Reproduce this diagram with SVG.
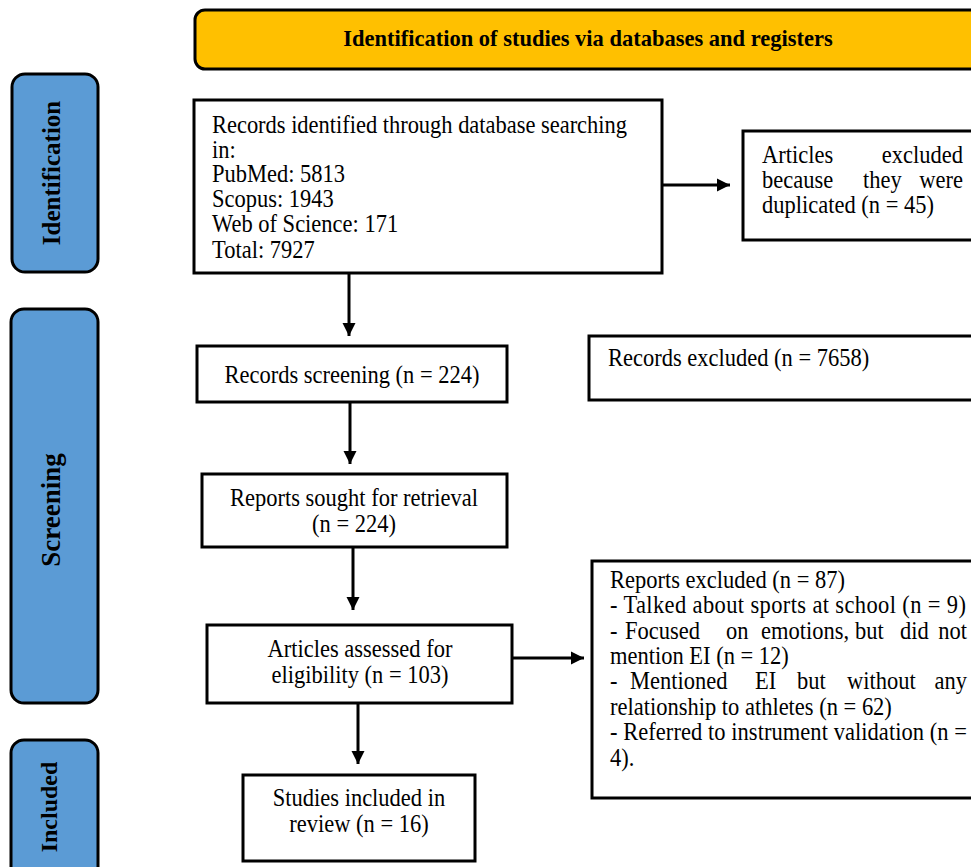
<svg xmlns="http://www.w3.org/2000/svg" width="971" height="867" viewBox="0 0 971 867">
<defs>
<style>
.box{fill:#fff;stroke:#000;stroke-width:3}
.phase{fill:#5B9BD5;stroke:#000;stroke-width:3}
.hdr{fill:#FFC000;stroke:#000;stroke-width:3}
.t{font-family:"Liberation Serif","Times New Roman",serif;font-size:22.5px;fill:#000}
.c{text-anchor:middle}
.e{text-anchor:end}
.b{font-family:"Liberation Serif","Times New Roman",serif;font-weight:bold;fill:#000}
.ln{stroke:#000;stroke-width:3;fill:none}
</style>
<marker id="ah" viewBox="0 0 10 10" refX="10" refY="5" markerWidth="4.5" markerHeight="4.5" markerUnits="strokeWidth" orient="auto">
<path d="M0,0 L10,5 L0,10 Z" fill="#000"/>
</marker>
</defs>
<rect width="971" height="867" fill="#fff"/>

<g id="header">
<rect class="hdr" x="195" y="10" width="800" height="59" rx="10"/>
<text class="b c" x="588" y="46" font-size="22.5" transform="matrix(1 0 0 1.06 0 -2.76)">Identification of studies via databases and registers</text>
</g>

<g id="phase-identification">
<rect class="phase" x="12" y="74" width="86" height="198" rx="13"/>
<text class="b c" font-size="25" transform="translate(60,173) rotate(-90)">Identification</text>
</g>
<g id="phase-screening">
<rect class="phase" x="11" y="309" width="87" height="394" rx="13"/>
<text class="b c" font-size="27" transform="translate(60,510) rotate(-90)">Screening</text>
</g>
<g id="phase-included">
<rect class="phase" x="11" y="740" width="87" height="150" rx="13"/>
<text class="b c" font-size="24" transform="translate(57,807) rotate(-90)">Included</text>
</g>

<g id="records-identified">
<rect class="box" x="194" y="100" width="468" height="173"/>
<text class="t" x="212" y="133" textLength="415" transform="matrix(1 0 0 1.1 0 -13.3)">Records identified through database searching</text>
<text class="t" x="212" y="158" transform="matrix(1 0 0 1.1 0 -15.8)">in:</text>
<text class="t" x="212" y="182" transform="matrix(1 0 0 1.1 0 -18.2)">PubMed: 5813</text>
<text class="t" x="212" y="207" transform="matrix(1 0 0 1.1 0 -20.7)">Scopus: 1943</text>
<text class="t" x="212" y="232" transform="matrix(1 0 0 1.1 0 -23.2)">Web of Science: 171</text>
<text class="t" x="212" y="258" transform="matrix(1 0 0 1.1 0 -25.8)">Total: 7927</text>
</g>

<g id="duplicates-excluded">
<rect class="box" x="743" y="131" width="240" height="109"/>
<text class="t" y="163" transform="matrix(1 0 0 1.1 0 -16.3)"><tspan x="762">Articles</tspan><tspan x="963" class="e">excluded</tspan></text>
<text class="t" y="188" transform="matrix(1 0 0 1.1 0 -18.8)"><tspan x="762">because</tspan><tspan x="863">they</tspan><tspan x="963" class="e">were</tspan></text>
<text class="t" x="762" y="213" transform="matrix(1 0 0 1.1 0 -21.3)">duplicated (n = 45)</text>
</g>

<g id="records-screening">
<rect class="box" x="197" y="346" width="310" height="56"/>
<text class="t c" x="352" y="383" transform="matrix(1 0 0 1.1 0 -38.3)">Records screening (n = 224)</text>
</g>

<g id="records-excluded">
<rect class="box" x="589" y="336" width="400" height="64"/>
<text class="t" x="608" y="366" transform="matrix(1 0 0 1.1 0 -36.6)">Records excluded (n = 7658)</text>
</g>

<g id="reports-sought">
<rect class="box" x="202" y="474" width="305" height="73"/>
<text class="t c" x="354" y="506" transform="matrix(1 0 0 1.1 0 -50.6)">Reports sought for retrieval</text>
<text class="t c" x="354" y="532" transform="matrix(1 0 0 1.1 0 -53.2)">(n = 224)</text>
</g>

<g id="articles-assessed">
<rect class="box" x="207" y="625" width="305" height="78"/>
<text class="t c" x="360" y="657" transform="matrix(1 0 0 1.1 0 -65.7)">Articles assessed for</text>
<text class="t c" x="360" y="683" transform="matrix(1 0 0 1.1 0 -68.3)">eligibility (n = 103)</text>
</g>

<g id="reports-excluded">
<rect class="box" x="592" y="561" width="400" height="237"/>
<text class="t" x="610" y="588" transform="matrix(1 0 0 1.1 0 -58.8)">Reports excluded (n = 87)</text>
<text class="t" x="610" y="613" textLength="356" transform="matrix(1 0 0 1.1 0 -61.3)">- Talked about sports at school (n = 9)</text>
<text class="t" y="639" transform="matrix(1 0 0 1.1 0 -63.9)"><tspan x="610">-</tspan><tspan x="625">Focused</tspan><tspan x="726">on</tspan><tspan x="761">emotions,</tspan><tspan x="855">but</tspan><tspan x="900">did</tspan><tspan x="967" class="e">not</tspan></text>
<text class="t" x="610" y="664" transform="matrix(1 0 0 1.1 0 -66.4)">mention EI (n = 12)</text>
<text class="t" y="689" transform="matrix(1 0 0 1.1 0 -68.9)"><tspan x="610">-</tspan><tspan x="630">Mentioned</tspan><tspan x="755">EI</tspan><tspan x="797">but</tspan><tspan x="847">without</tspan><tspan x="967" class="e">any</tspan></text>
<text class="t" x="610" y="715" transform="matrix(1 0 0 1.1 0 -71.5)">relationship to athletes (n = 62)</text>
<text class="t" x="610" y="740" textLength="357" transform="matrix(1 0 0 1.1 0 -74)">- Referred to instrument validation (n =</text>
<text class="t" x="610" y="766" transform="matrix(1 0 0 1.1 0 -76.6)">4).</text>
</g>

<g id="studies-included">
<rect class="box" x="243" y="775" width="232" height="86"/>
<text class="t c" x="359" y="806" transform="matrix(1 0 0 1.1 0 -80.6)">Studies included in</text>
<text class="t c" x="359" y="832" transform="matrix(1 0 0 1.1 0 -83.2)">review (n = 16)</text>
</g>

<g id="connectors">
<line class="ln" x1="349" y1="273" x2="349" y2="336" marker-end="url(#ah)"/>
<line class="ln" x1="350" y1="402" x2="350" y2="464" marker-end="url(#ah)"/>
<line class="ln" x1="353" y1="547" x2="353" y2="610" marker-end="url(#ah)"/>
<line class="ln" x1="358" y1="703" x2="358" y2="764" marker-end="url(#ah)"/>
<line class="ln" x1="662" y1="185" x2="730" y2="185" marker-end="url(#ah)"/>
<line class="ln" x1="512" y1="658" x2="584" y2="658" marker-end="url(#ah)"/>
</g>
</svg>
